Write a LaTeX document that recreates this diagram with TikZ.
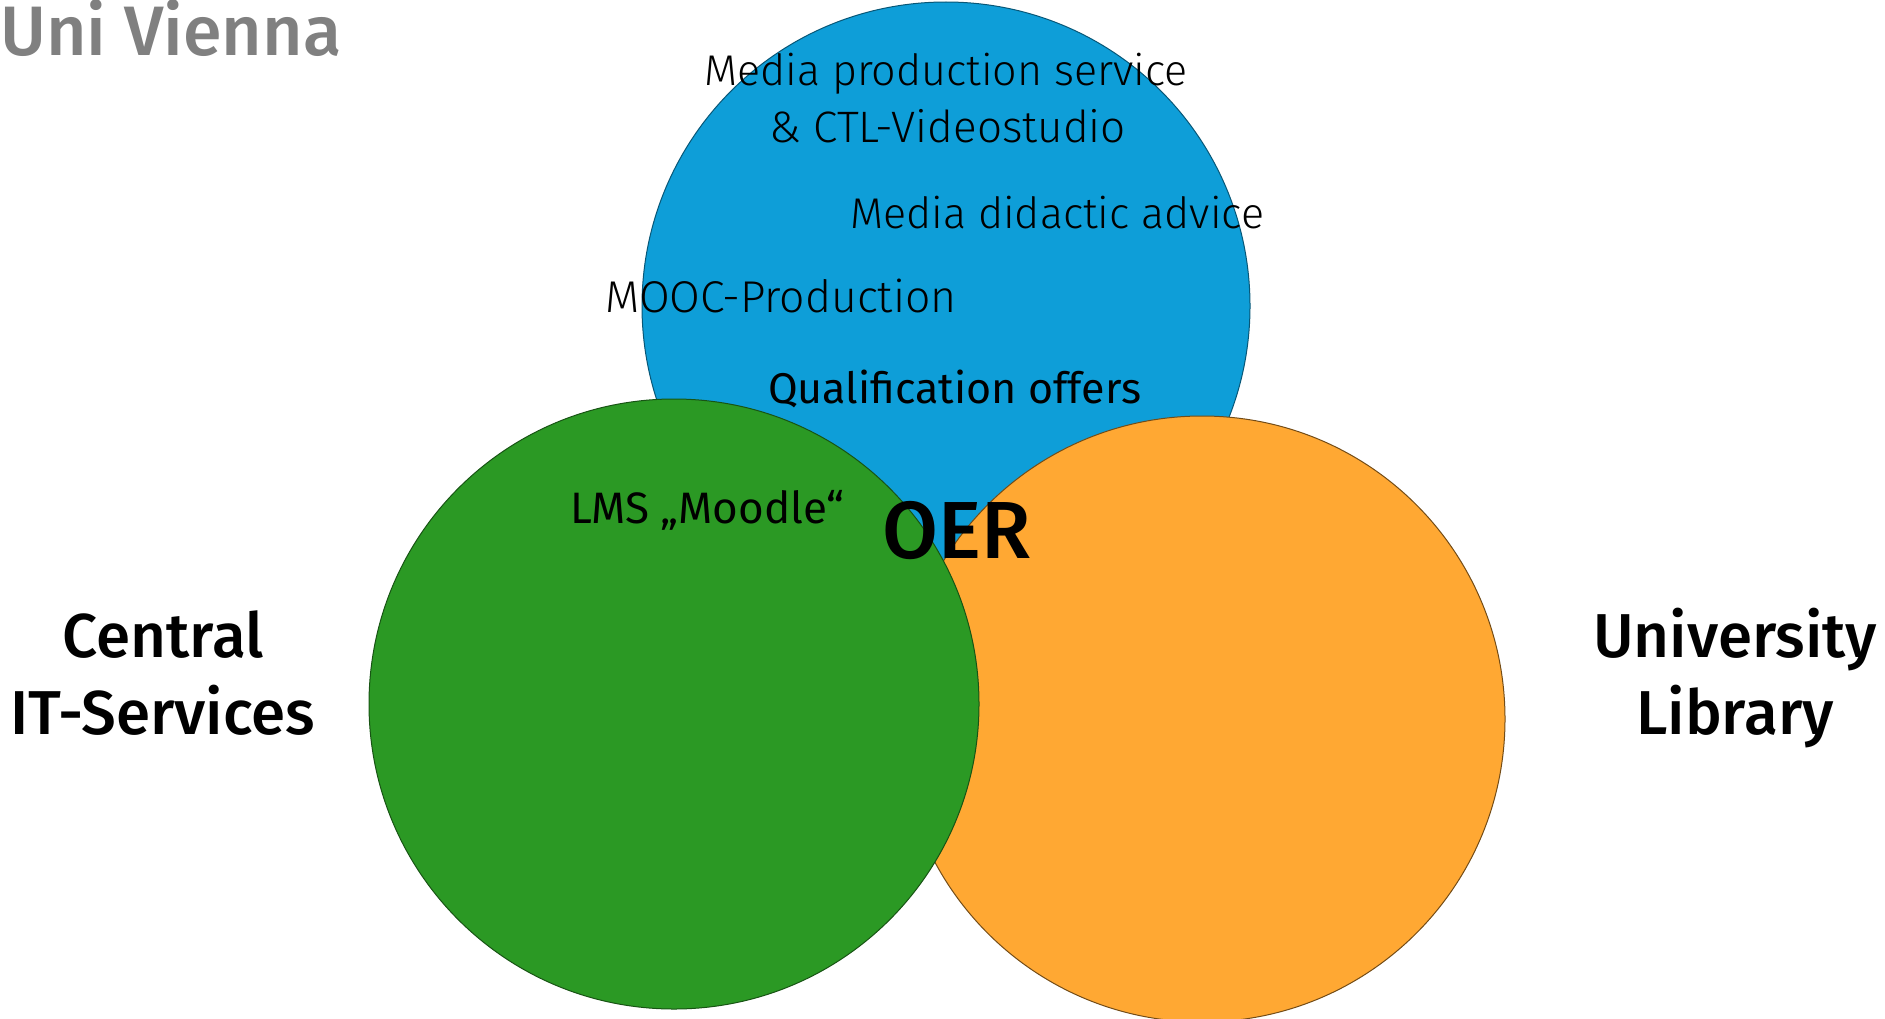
\documentclass[tikz,border=0pt]{standalone}
\usepackage{fontspec}
\setmainfont{Fira Sans}
\newfontfamily\lightfont{Fira Sans}[UprightFont=* Light]
\newfontfamily\semifont{Fira Sans}[UprightFont=* Medium]
\definecolor{cblue}{RGB}{14,158,216}
\definecolor{cgreen}{RGB}{43,153,36}
\definecolor{corange}{RGB}{255,168,51}
\definecolor{cgray}{RGB}{128,128,128}
\tikzset{
  venn/.style={line width=1bp},
  lighttext/.style={anchor=base west, inner sep=0pt, font=\lightfont\fontsize{43bp}{52bp}\selectfont},
  regtext/.style={anchor=base west, inner sep=0pt, font=\fontsize{43bp}{52bp}\selectfont},
  bigtext/.style={inner sep=0pt, align=center, font=\semifont\fontsize{62bp}{77bp}\selectfont},
}
\begin{document}
\begin{tikzpicture}[x=1bp,y=-1bp]
\useasboundingbox (0,0) rectangle (1885,1018);
\begin{scope}
\clip (0,0) rectangle (1885,1018);
\filldraw[venn, fill=cblue, draw=cblue!55!black] (946,306) circle[radius=304bp];
\filldraw[venn, fill=corange, draw=corange!45!black] (1202,719) circle[radius=303bp];
\filldraw[venn, fill=cgreen, draw=cgreen!55!black] (674,704) circle[radius=305bp];
\end{scope}
\node[anchor=base west, inner sep=0pt, text=cgray, font=\semifont\fontsize{70bp}{84bp}\selectfont] (uni) at (0,55) {Uni Vienna};
\node[lighttext] (mps) at (704,85) {Media production service};
\node[lighttext, font=\lightfont\fontsize{44bp}{52bp}\selectfont] (ctl) at (769,142) {\& CTL-Videostudio};
\node[lighttext] (mda) at (850,228) {Media didactic advice};
\node[lighttext, font=\lightfont\fontsize{44.5bp}{52bp}\selectfont] (mooc) at (605,312) {MOOC-Production};
\node[regtext] (qual) at (768,403) {Qualification offers};
\node[regtext, font=\fontsize{44bp}{52bp}\selectfont] (lms) at (570,523) {LMS „Moodle“};
\node[anchor=base west, inner sep=0pt, font=\semifont\fontsize{81bp}{97bp}\selectfont] (oer) at (882,558) {OER};
\node[bigtext, anchor=base] (cit) at (163,734) {Central\\IT-Services};
\node[bigtext, anchor=base] (ul) at (1735,734) {University\\Library};
\end{tikzpicture}
\end{document}
